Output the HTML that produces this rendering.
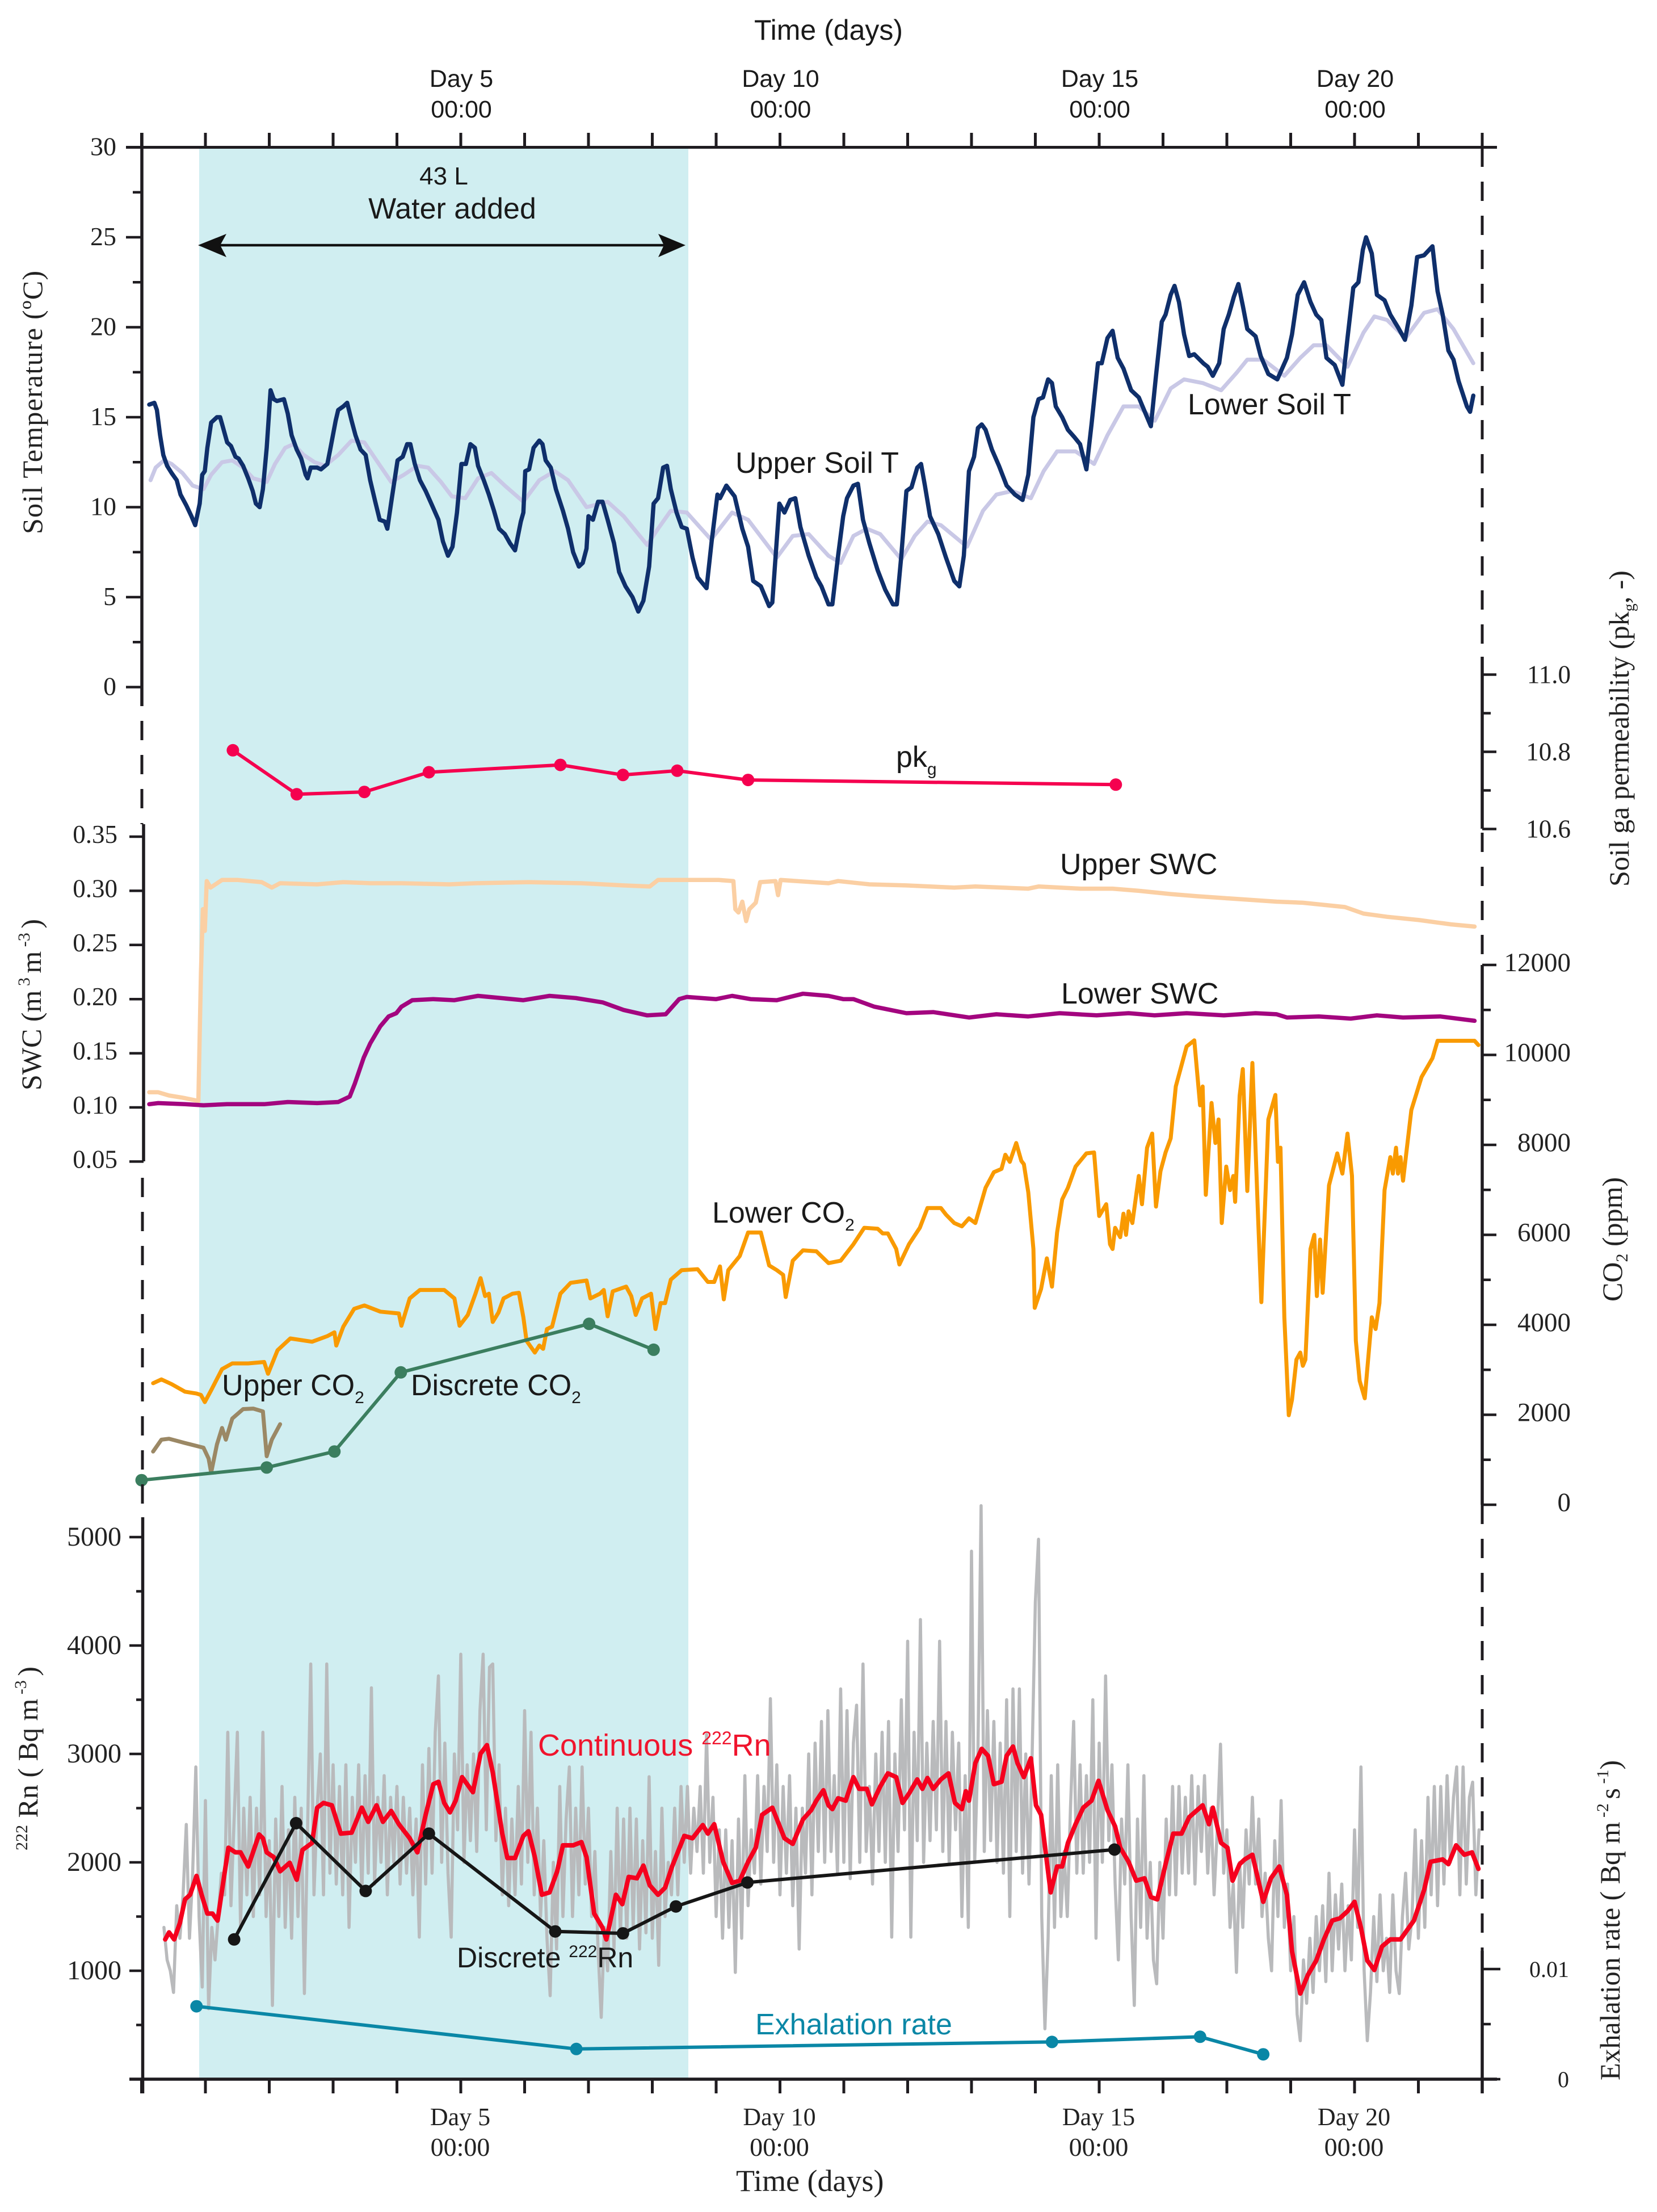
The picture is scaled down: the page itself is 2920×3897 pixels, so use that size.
<!DOCTYPE html>
<html lang="en">
<head>
<meta charset="utf-8">
<title>Soil temperature, permeability, SWC, CO2 and radon time series</title>
<style>
html,body{margin:0;padding:0;background:#fff;}
svg{display:block;}
.sans{font-family:"Liberation Sans",Arial,sans-serif;fill:#1a1a1a;}
.serif{font-family:"Liberation Serif",serif;fill:#222;}
</style>
</head>
<body>
<svg id="chart" xmlns="http://www.w3.org/2000/svg" width="2920" height="3897" viewBox="0 0 2920 3897">
<rect x="0" y="0" width="2920" height="3897" fill="#ffffff"/>
<rect x="351" y="260" width="862" height="3403" fill="#d0eef1"/>
<g id="marks"></g>
<g id="axes"></g>

<g>
<line x1="380" y1="432" x2="1180" y2="432" stroke="#111" stroke-width="4.5"/>
<polygon points="349,432 399,412 388,432 399,453" fill="#111"/>
<polygon points="1208,432 1160,412 1170,432 1160,453" fill="#111"/>
<text class="sans" x="782" y="325" font-size="44" text-anchor="middle">43 L</text>
<text class="sans" x="797" y="385" font-size="52" text-anchor="middle">Water added</text>
</g>

<text class="sans" x="1460" y="70" font-size="50" text-anchor="middle">Time (days)</text>
<text class="serif" x="1297" y="3860" font-size="54">Time (days)</text>

<text class="sans" x="1296" y="833" font-size="52">Upper Soil T</text>
<text class="sans" x="2093" y="730" font-size="52">Lower Soil T</text>
<text class="sans" x="1579" y="1351" font-size="52">pk<tspan font-size="30" dy="14">g</tspan></text>
<text class="sans" x="1868" y="1540" font-size="52">Upper SWC</text>
<text class="sans" x="1870" y="1768" font-size="52">Lower SWC</text>
<text class="sans" x="1255" y="2154" font-size="52">Lower CO<tspan font-size="30" dy="14">2</tspan></text>
<text class="sans" x="391" y="2458" font-size="52">Upper CO<tspan font-size="30" dy="14">2</tspan></text>
<text class="sans" x="724" y="2458" font-size="52">Discrete CO<tspan font-size="30" dy="14">2</tspan></text>
<text class="sans" x="948" y="3093" font-size="54" style="fill:#f0142d">Continuous <tspan font-size="32" dy="-20">222</tspan><tspan dy="20">Rn</tspan></text>
<text class="sans" x="805" y="3466" font-size="50">Discrete <tspan font-size="30" dy="-18">222</tspan><tspan dy="18">Rn</tspan></text>
<text class="sans" x="1331" y="3584" font-size="52" style="fill:#0a87a6">Exhalation rate</text>

<text class="serif" transform="translate(74,941) rotate(-90)" font-size="50" textLength="464" lengthAdjust="spacing">Soil Temperature (ºC)</text>
<text class="serif" transform="translate(2870,1562) rotate(-90)" font-size="50">Soil ga permeability (pk<tspan font-size="28" dy="10">g</tspan><tspan dy="-10">, -)</tspan></text>
<text class="serif" transform="translate(72,1921) rotate(-90)" font-size="50">SWC (m<tspan font-size="30" dy="-20">&#160;3&#160;</tspan><tspan dy="20">m</tspan><tspan font-size="30" dy="-20">&#160;-3&#160;</tspan><tspan dy="20">)</tspan></text>
<text class="serif" transform="translate(2858,2293) rotate(-90)" font-size="50">CO<tspan font-size="30" dy="10">2</tspan><tspan dy="-10"> (ppm)</tspan></text>
<text class="serif" transform="translate(66,3260) rotate(-90)" font-size="50"><tspan font-size="30" dy="-18">222</tspan><tspan dy="18"> Rn ( Bq m</tspan><tspan font-size="30" dy="-20">&#160;-3&#160;</tspan><tspan dy="20">)</tspan></text>
<text class="serif" transform="translate(2854,3665) rotate(-90)" font-size="50">Exhalation rate ( Bq m<tspan font-size="30" dy="-20">&#160;-2&#160;</tspan><tspan dy="20">s</tspan><tspan font-size="30" dy="-20">&#160;-1</tspan><tspan dy="20">)</tspan></text>
</svg>

<script>
var upperTDays=[0.12,0.20,0.24,0.29,0.34,0.40,0.47,0.55,0.61,0.70,0.78,0.84,0.91,0.95,0.99,1.03,1.09,1.18,1.23,1.27,1.34,1.40,1.47,1.52,1.59,1.67,1.74,1.79,1.85,1.90,1.96,2.02,2.07,2.12,2.23,2.29,2.35,2.43,2.50,2.57,2.60,2.65,2.75,2.81,2.91,2.96,3.04,3.08,3.16,3.22,3.29,3.35,3.43,3.51,3.58,3.66,3.73,3.81,3.85,3.92,4.01,4.09,4.16,4.21,4.28,4.36,4.45,4.55,4.65,4.72,4.80,4.87,4.94,5.01,5.08,5.15,5.22,5.27,5.36,5.44,5.52,5.60,5.69,5.77,5.85,5.94,5.98,6.01,6.07,6.14,6.23,6.28,6.33,6.41,6.49,6.60,6.68,6.76,6.85,6.91,6.97,7.00,7.07,7.15,7.22,7.30,7.40,7.48,7.58,7.69,7.78,7.86,7.95,8.02,8.09,8.17,8.23,8.29,8.38,8.46,8.54,8.63,8.71,8.85,8.93,9.02,9.06,9.16,9.29,9.41,9.50,9.58,9.70,9.83,9.88,9.99,10.07,10.16,10.24,10.32,10.45,10.57,10.65,10.76,
10.82,10.91,10.99,11.05,11.15,11.22,11.30,11.40,11.53,11.65,11.77,11.83,11.90,11.98,12.06,12.15,12.21,12.27,12.35,12.48,12.60,12.73,12.81,12.88,12.96,13.04,13.10,13.16,13.22,13.32,13.43,13.55,13.68,13.80,13.89,13.97,14.05,14.12,14.20,14.26,14.32,14.42,14.51,14.61,14.70,14.80,14.88,14.98,15.04,15.13,15.21,15.29,15.38,15.50,15.62,15.75,15.81,15.89,15.98,16.04,16.12,16.18,16.25,16.33,16.41,16.49,16.63,16.70,16.78,16.88,16.95,17.03,17.11,17.18,17.25,17.32,17.45,17.53,17.65,17.79,17.94,18.02,18.11,18.21,18.31,18.40,18.48,18.56,18.69,18.81,18.89,18.98,19.06,19.13,19.18,19.27,19.35,19.47,19.56,19.68,19.79,19.89,19.98,20.09,20.22,20.30,20.38,20.47,20.55,20.63,20.76,20.81,20.86];
var upperTValues=[15.7,15.8,15.4,14.0,12.9,12.3,11.9,11.5,10.7,10.1,9.5,9.0,10.2,11.8,12.0,13.3,14.7,15.0,15.0,14.5,13.6,13.4,12.8,12.7,12.3,11.6,10.9,10.2,10.0,11.0,13.3,16.5,16.0,15.9,16.0,15.2,14.0,13.2,12.7,11.8,11.6,12.2,12.2,12.1,12.4,13.3,14.8,15.4,15.6,15.8,14.8,14.0,13.2,12.9,11.5,10.3,9.3,9.2,8.8,10.5,12.6,12.8,13.5,13.5,12.4,11.5,10.9,10.1,9.3,8.1,7.3,7.8,9.7,12.4,12.4,13.5,13.3,12.3,11.5,10.7,9.8,8.8,8.5,8.0,7.6,9.2,9.7,12.0,12.1,13.3,13.7,13.5,12.6,12.2,11.0,9.8,8.8,7.5,6.7,6.9,7.7,9.5,9.3,10.3,10.3,9.3,8.0,6.4,5.6,5.0,4.2,4.8,6.7,10.2,10.5,12.2,12.3,11.0,9.7,8.9,8.8,7.2,6.1,5.5,8.1,10.7,10.5,11.2,10.6,8.8,7.8,5.9,5.6,4.5,4.7,10.2,9.7,10.4,10.5,8.9,7.3,6.1,5.6,4.6,
4.6,7.3,9.5,10.5,11.2,11.3,9.3,8.0,6.5,5.4,4.6,4.6,7.3,10.9,11.1,12.2,12.4,11.2,9.5,8.5,7.2,5.9,5.6,7.3,12.0,12.8,14.4,14.6,14.3,13.2,12.3,11.2,10.7,10.4,11.8,15.0,16.0,16.1,17.1,16.9,15.6,15.0,14.3,13.9,13.5,12.1,14.6,18.0,18.0,19.4,19.8,18.3,17.7,16.5,16.1,15.0,14.5,17.3,20.3,20.7,21.8,22.3,21.4,19.6,18.4,18.5,18.0,17.8,17.3,18.0,19.9,20.7,21.7,22.4,21.2,19.9,19.5,18.4,17.4,17.1,18.3,19.6,21.8,22.5,21.4,20.7,20.4,18.3,17.9,16.8,19.4,22.2,22.5,24.3,25.0,24.1,21.8,21.5,20.7,20.0,19.3,21.2,23.9,24.0,24.5,22.0,20.7,18.7,18.2,17.0,15.6,15.3,16.2];

var lowerTDays=[0.14,0.22,0.35,0.47,0.64,0.80,0.97,1.09,1.26,1.42,1.59,1.75,1.96,2.09,2.25,2.38,2.54,2.71,2.87,3.08,3.29,3.49,3.66,3.91,4.11,4.32,4.49,4.69,4.86,5.07,5.27,5.48,5.69,5.98,6.23,6.47,6.68,6.97,7.30,7.55,7.92,8.09,8.29,8.54,8.92,9.25,9.50,9.95,10.20,10.45,10.76,10.95,11.15,11.36,11.57,11.90,12.11,12.31,12.52,12.93,13.18,13.39,13.64,13.93,14.13,14.34,14.63,14.92,15.13,15.38,15.62,15.87,16.12,16.33,16.62,16.91,17.16,17.32,17.57,17.90,18.15,18.36,18.56,18.89,19.14,19.31,19.51,19.80,20.09,20.30,20.55,20.86];
var lowerTValues=[11.5,12.2,12.6,12.4,11.9,11.2,11.0,11.8,12.5,12.6,12.2,11.6,11.4,12.4,13.3,13.5,12.9,12.5,12.3,12.9,13.7,13.6,12.7,11.4,11.8,12.3,12.2,11.4,10.6,10.5,11.6,11.9,11.2,10.3,11.5,12.0,11.5,10.0,10.3,9.5,7.9,8.8,9.8,9.7,8.2,9.7,9.3,7.2,8.4,8.5,7.3,6.9,8.4,8.8,8.5,7.1,8.4,9.2,9.0,7.8,9.8,10.7,10.9,10.5,12.0,13.1,13.1,12.4,14.0,15.6,15.6,14.8,16.6,17.1,16.9,16.5,17.5,18.2,18.2,17.3,18.3,19.0,19.0,17.8,19.7,20.6,20.4,19.4,20.8,21.0,19.9,18.0];

var pkgDays=[1.43,2.43,3.49,4.50,6.56,7.54,8.39,9.50,15.26];
var pkgValues=[10.804,10.690,10.696,10.747,10.766,10.740,10.751,10.727,10.715];

var upperSwcDays=[0.12,0.26,0.43,0.64,0.89,0.93,0.96,0.99,1.02,1.08,1.26,1.51,1.88,2.04,2.17,2.75,3.16,3.58,4.07,4.82,5.23,6.06,6.89,7.55,7.96,8.09,8.54,9.04,9.27,9.30,9.35,9.41,9.47,9.52,9.62,9.69,9.93,9.97,10.01,10.76,10.91,11.40,11.98,12.73,13.06,13.89,14.05,14.71,15.21,15.62,16.12,16.53,17.03,17.78,18.19,18.85,19.14,19.51,20.01,20.51,20.88];
var upperSwcValues=[0.114,0.114,0.111,0.109,0.106,0.224,0.283,0.263,0.309,0.303,0.310,0.310,0.308,0.303,0.307,0.306,0.308,0.307,0.307,0.306,0.307,0.308,0.307,0.305,0.304,0.310,0.310,0.310,0.309,0.283,0.280,0.290,0.272,0.283,0.289,0.308,0.309,0.296,0.310,0.307,0.309,0.306,0.305,0.303,0.304,0.302,0.304,0.302,0.302,0.300,0.297,0.295,0.293,0.290,0.289,0.285,0.279,0.276,0.273,0.269,0.267];

var lowerSwcDays=[0.12,0.26,0.68,0.97,1.34,1.92,2.29,2.75,3.08,3.26,3.34,3.48,3.58,3.74,3.87,3.99,4.07,4.24,4.57,4.90,5.27,5.98,6.39,6.80,7.22,7.55,7.92,8.21,8.42,8.54,9.00,9.25,9.54,9.95,10.36,10.76,10.99,11.15,11.48,11.98,12.40,12.96,13.39,13.89,14.38,14.96,15.46,15.87,16.37,16.95,17.45,17.78,17.94,18.44,18.94,19.35,19.76,20.34,20.88];
var lowerSwcValues=[0.103,0.104,0.103,0.102,0.103,0.103,0.105,0.104,0.105,0.110,0.122,0.146,0.159,0.175,0.184,0.187,0.193,0.199,0.200,0.199,0.203,0.199,0.203,0.201,0.197,0.190,0.185,0.186,0.200,0.202,0.200,0.203,0.200,0.199,0.205,0.203,0.200,0.200,0.193,0.187,0.188,0.183,0.186,0.184,0.187,0.185,0.187,0.185,0.187,0.185,0.187,0.186,0.183,0.184,0.182,0.185,0.183,0.184,0.180];

var lowerCo2Days=[0.18,0.31,0.47,0.68,0.86,0.93,0.99,1.09,1.26,1.42,1.67,1.92,1.98,2.13,2.33,2.67,2.91,3.02,3.05,3.16,3.33,3.49,3.74,4.03,4.07,4.20,4.36,4.74,4.90,4.98,5.11,5.23,5.31,5.38,5.44,5.50,5.59,5.67,5.81,5.91,5.98,6.03,6.16,6.23,6.29,6.35,6.43,6.56,6.72,6.97,7.03,7.18,7.24,7.30,7.38,7.59,7.67,7.74,7.84,7.98,8.05,8.13,8.20,8.29,8.46,8.71,8.87,8.97,9.06,9.12,9.19,9.37,9.50,9.70,9.83,9.95,10.05,10.09,10.20,10.36,10.57,10.76,
10.95,11.15,11.32,11.53,11.61,11.69,11.82,11.87,12.02,12.19,12.31,12.52,12.60,12.73,12.85,12.96,13.06,13.22,13.35,13.47,13.53,13.60,13.70,13.78,13.82,13.89,13.97,13.99,14.09,14.18,14.26,14.34,14.42,14.51,14.63,14.80,14.92,15.00,15.11,15.17,15.21,15.25,15.33,15.38,15.42,15.46,15.52,15.62,15.67,15.75,15.83,15.89,15.96,16.04,16.12,16.20,16.37,16.49,16.58,16.62,16.67,16.76,16.82,16.87,16.92,16.99,17.05,17.10,17.13,17.20,17.25,17.32,17.40,17.49,17.54,17.65,17.76,17.80,17.84,17.90,17.97,18.02,18.09,18.15,18.19,18.23,18.31,18.37,18.41,18.46,18.50,18.60,18.73,18.81,18.89,18.96,19.02,19.08,19.16,19.27,19.33,19.39,19.47,19.56,19.60,19.65,19.68,19.72,19.76,19.89,20.05,20.22,20.30,20.88,20.94];
var lowerCo2Values=[2702,2786,2681,2514,2472,2440,2283,2545,3016,3142,3142,3173,2911,3435,3697,3624,3749,3833,3540,3959,4356,4430,4293,4252,3980,4587,4775,4775,4587,3980,4220,4691,5037,4639,4691,4063,4273,4587,4691,4712,4168,3644,3383,3540,3466,3906,3959,4691,4932,4985,4587,4691,4775,4189,4744,4849,4639,4220,4587,4691,3906,4482,4482,5005,5215,5236,4953,4953,5299,4566,5215,5529,6052,6052,5320,5215,5110,4618,5424,5655,5634,5372,
5424,5791,6157,6136,6032,6032,5686,5341,5791,6157,6597,6597,6450,6262,6189,6367,6262,7047,7393,7466,7780,7623,8042,7644,7571,6942,5686,4377,4796,5477,4849,6052,6786,7047,7518,7811,7832,6419,6681,5791,5686,6157,5948,6471,6000,6524,6262,7309,6681,7937,8251,6628,7414,7832,8147,9298,10188,10324,8879,9298,6890,8932,8042,8565,6262,7518,6995,7309,6733,9089,9686,6974,9822,6367,4503,8565,9110,7623,7937,4168,1990,2336,3226,3383,3089,3226,5686,6000,4639,5895,4712,7100,7811,7361,8251,7309,3644,2754,2367,4168,3906,4482,6995,7728,7361,7937,7361,7728,7204,8775,9508,9927,10314,10314,10220];

var upperCo2Days=[0.18,0.31,0.43,0.68,0.97,1.05,1.09,1.18,1.26,1.32,1.42,1.59,1.75,1.90,1.96,2.04,2.17];
var upperCo2Values=[1184,1446,1467,1373,1268,1027,713,1341,1707,1446,1917,2126,2137,2074,1079,1446,1791];

var discreteCo2Days=[0,1.96,3.02,4.06,7.01,8.02];
var discreteCo2Values=[546,828,1184,2943,4021,3446];

var rawRadonStart=0.35;
var rawRadonStep=0.05;
var rawRadonValues=[1400,1100,1000,800,1600,1300,1700,2350,1300,1900,2880,1500,850,2570,650,1400,1100,1500,1900,1700,
3200,1600,2400,3200,1400,2500,1700,2600,1500,2500,1700,3200,1500,2200,680,2400,1500,2700,1400,2300,
1300,2600,1500,2500,790,2300,3830,1700,2500,3000,1700,3830,1900,2900,1800,2700,1700,2900,1400,2600,
2000,2900,1700,2800,1900,3610,1800,2600,2000,2800,1700,2600,2000,2700,1800,2600,1900,2500,1700,2400,
1310,2900,1800,3050,1900,3200,3720,2000,3100,1900,1310,3000,2300,3920,2000,2900,2200,3000,2100,3400,
3920,2300,3800,3830,2200,2900,1700,2500,1600,2400,1700,2700,1800,3400,2000,3200,1700,2500,1500,2200,
1300,770,2000,1200,2700,1500,2400,2880,1500,2500,1700,2880,1800,2500,1500,2100,1200,570,1400,1000,
2100,1200,2500,1300,2400,1300,2500,1400,2400,1200,2200,1350,2790,1300,2100,1050,2500,1500,2000,1700,
2500,1700,2700,2000,2700,1900,2500,2100,2700,1900,3180,2000,2600,1500,2300,1300,2300,1400,2200,985,
2400,1300,2800,1600,2300,1900,2800,1800,2700,2100,3510,2000,2900,1700,2700,1900,2800,1600,2500,1200,
2500,1900,3000,1700,3100,2100,3300,2000,3400,2100,2800,1900,3600,2000,3400,1850,3100,3450,2000,3830,
2100,2700,1800,3000,2100,3200,2000,3300,1310,3000,2100,3500,2300,4040,1310,3200,2200,4240,2000,3100,
2200,3300,2300,4040,2100,3300,2000,3200,2300,3100,1500,2800,1400,4870,2000,3000,5290,2100,3400,2200,
3300,2000,3100,1900,3500,1500,3600,2100,3600,1900,3000,1800,3000,4400,4980,1500,465,1300,2800,1400,
2900,1500,2100,1500,2500,3300,1900,2900,1900,2800,2000,3500,1300,3100,2000,3720,2200,2900,1800,1100,
2400,1800,2900,1500,680,2400,1400,2800,1300,2000,1100,880,2000,1300,2400,1700,2700,1700,2700,1900,
2600,1900,2800,1800,2700,2100,2800,1900,2500,1700,2300,3090,1900,2300,1400,1800,985,2000,1400,2300,
1800,2600,1800,2400,1500,1900,1300,1000,2200,1500,2570,1400,1800,1000,1500,600,355,1100,700,1300,
800,1500,1000,1600,900,1900,1000,1700,1200,1800,1000,1600,1100,2300,1400,2880,1000,355,800,1500,
900,1700,1000,1300,800,1700,1000,790,1500,1900,1200,1500,2300,1300,2200,1400,2600,1700,2700,1600,
2700,1800,2800,2000,2600,2880,1700,2880,1800,2600,2740,1700,2300];

var contRadonDays=[0.37,0.43,0.51,0.60,0.68,0.76,0.86,0.94,1.03,1.11,1.19,1.26,1.36,1.47,1.55,1.67,1.77,1.84,1.90,1.96,2.07,2.17,2.32,2.43,2.52,2.67,2.75,2.85,2.98,3.12,3.29,3.45,3.55,3.68,3.78,3.91,4.03,4.20,4.32,4.45,4.57,4.65,4.74,4.83,4.92,5.02,5.19,5.31,5.41,5.50,5.65,5.73,5.85,5.98,6.06,6.16,6.27,6.39,6.51,6.60,6.76,6.89,6.97,7.09,7.22,7.28,7.43,7.53,7.63,7.76,7.86,7.96,8.09,8.20,8.31,8.50,8.63,8.79,8.87,8.97,9.11,9.25,9.37,9.50,9.62,9.72,9.88,10.07,10.20,10.36,10.49,10.57,10.68,10.76,
10.82,10.91,11.03,11.15,11.24,11.36,11.44,11.57,11.69,11.82,11.92,12.02,12.15,12.23,12.31,12.40,12.52,12.64,12.74,12.85,12.91,12.96,13.06,13.16,13.26,13.35,13.47,13.55,13.65,13.72,13.82,13.93,14.01,14.09,14.18,14.24,14.34,14.42,14.51,14.63,14.75,14.88,14.99,15.13,15.25,15.33,15.46,15.58,15.71,15.81,15.91,16.04,16.16,16.29,16.41,16.62,16.72,16.78,16.91,17.01,17.09,17.20,17.28,17.40,17.57,17.69,17.82,17.94,18.02,18.15,18.27,18.40,18.52,18.65,18.77,18.89,19.00,19.10,19.20,19.31,19.43,19.56,19.72,19.93,20.09,20.19,20.38,20.47,20.59,20.72,20.84,20.94];
var contRadonValues=[1289,1354,1289,1441,1658,1701,1875,1701,1528,1528,1463,1745,2135,2092,2092,1962,2135,2257,2222,2092,2048,1918,1996,1840,2114,2179,2504,2548,2526,2265,2274,2504,2374,2526,2374,2474,2352,2222,2092,2439,2721,2743,2548,2461,2569,2786,2647,3003,3081,2830,2265,2040,2040,2244,2287,2048,1701,1723,1918,2157,2157,2187,2048,1528,1397,1289,1701,1614,1866,1853,1970,1788,1701,1766,1962,2244,2222,2344,2265,2352,2005,1810,1831,2005,2135,2439,2504,2222,2170,2396,2482,2569,2665,2526,
2491,2591,2569,2786,2678,2678,2535,2699,2821,2786,2548,2634,2765,2678,2778,2678,2765,2821,2548,2491,2656,2569,2916,3047,2982,2721,2743,2982,3068,2916,2786,2960,2526,2439,2005,1723,1962,1962,2179,2352,2504,2569,2752,2482,2331,2135,2005,1831,1853,1680,1658,1983,2265,2265,2417,2526,2352,2504,2179,2135,1831,1983,2027,2070,1636,1853,1962,1701,1180,790,963,1094,1289,1463,1484,1549,1636,1397,1094,1007,1224,1289,1289,1463,1745,2005,2027,1983,2157,2070,2092,1940];

var discreteRadonDays=[1.45,2.42,3.51,4.50,6.48,7.54,8.37,9.49,15.24];
var discreteRadonValues=[1289,2361,1736,2265,1363,1345,1593,1814,2118];

var exhalationDays=[0.86,6.81,14.26,16.58,17.57];
var exhalationValues=[0.00662,0.00274,0.00338,0.00385,0.00226];

var dayTicks=[0,1,2,3,4,5,6,7,8,9,10,11,12,13,14,15,16,17,18,19,20,21];
var tempTicks=[30,25,20,15,10,5,0];
var tempMinorTicks=[27.5,22.5,17.5,12.5,7.5,2.5];
var pkgTicks=[11.0,10.8,10.6];
var pkgMinorTicks=[10.9,10.7];
var swcTicks=[0.35,0.30,0.25,0.20,0.15,0.10,0.05];
var co2Ticks=[12000,10000,8000,6000,4000,2000,0];
var co2MinorTicks=[11000,9000,7000,5000,3000,1000];
var radonTicks=[5000,4000,3000,2000,1000];
var radonMinorTicks=[4500,3500,2500,1500,500];
var exhalationTicks=[0.01,0];
var exhalationMinorTicks=[0.005];
var dayLabelTicks=[5,10,15,19];
var dayLabelNames=["Day 5","Day 10","Day 15","Day 20"];
var timeLabel="00:00";

function xDay(d){return 249.5+112.5*d;}
function yTemp(v){return 1210.5-31.7*v;}
function yPkg(v){return 1324.5+(10.8-v)*680;}
function ySwc(v){return 1951+(0.10-v)*1908;}
function yCo2(v){return 2651-v*0.07925;}
function yRadon(v){return 3663-v*0.191;}
function yExh(v){return 3663-v*19400;}

var NS="http://www.w3.org/2000/svg";
var marks=document.getElementById("marks");
var axes=document.getElementById("axes");

function drawSeries(name,days,vals,yFn,color,width){
  var pts=[];
  var n=Math.min(days.length,vals.length);
  for(var i=0;i<n;i++){pts.push(xDay(days[i]).toFixed(1)+","+yFn(vals[i]).toFixed(1));}
  var el=document.createElementNS(NS,"polyline");
  
  
  el.setAttribute("points",pts.join(" "));
  el.setAttribute("fill","none");
  el.setAttribute("stroke",color);
  el.setAttribute("stroke-width",width);
  el.setAttribute("stroke-linejoin","round");
  el.setAttribute("stroke-linecap","round");
  marks.appendChild(el);
}
function drawPoints(name,days,vals,yFn,color,r){
  for(var i=0;i<days.length;i++){
    var c=document.createElementNS(NS,"circle");
    
    
    c.setAttribute("cx",xDay(days[i]).toFixed(1));
    c.setAttribute("cy",yFn(vals[i]).toFixed(1));
    c.setAttribute("r",r);
    c.setAttribute("fill",color);
    marks.appendChild(c);
  }
}
function seg(name,x1,y1,x2,y2,w,dash){
  var l=document.createElementNS(NS,"line");
  
  
  l.setAttribute("x1",x1);l.setAttribute("y1",y1);l.setAttribute("x2",x2);l.setAttribute("y2",y2);
  l.setAttribute("stroke","#1f1c20");l.setAttribute("stroke-width",w);
  if(dash){l.setAttribute("stroke-dasharray",dash);}
  axes.appendChild(l);
}
function label(name,txt,x,y,anchor,size,cls){
  var t=document.createElementNS(NS,"text");
  
  
  t.setAttribute("x",x);t.setAttribute("y",y);
  t.setAttribute("text-anchor",anchor);
  t.setAttribute("font-size",size);
  t.setAttribute("class",cls);
  t.textContent=txt;
  axes.appendChild(t);
}

var rawRadonDays=[];
for(var ri=0;ri<rawRadonValues.length;ri++){rawRadonDays.push(rawRadonStart+rawRadonStep*ri);}

drawSeries("raw-radon-line",rawRadonDays,rawRadonValues,yRadon,"#b9babc",5.5);
drawSeries("lower-soil-temperature-line",lowerTDays,lowerTValues,yTemp,"#c9c8e6",7);
drawSeries("upper-soil-temperature-line",upperTDays,upperTValues,yTemp,"#0f2f6b",7.5);
drawSeries("pkg-line",pkgDays,pkgValues,yPkg,"#f5004f",6);
drawPoints("pkg-point",pkgDays,pkgValues,yPkg,"#f5004f",11);
drawSeries("upper-swc-line",upperSwcDays,upperSwcValues,ySwc,"#fbcfa3",7.5);
drawSeries("lower-swc-line",lowerSwcDays,lowerSwcValues,ySwc,"#a3057f",7.5);
drawSeries("lower-co2-line",lowerCo2Days,lowerCo2Values,yCo2,"#f99a00",7);
drawSeries("upper-co2-line",upperCo2Days,upperCo2Values,yCo2,"#9b8865",7);
drawSeries("discrete-co2-line",discreteCo2Days,discreteCo2Values,yCo2,"#3b7e5f",6);
drawPoints("discrete-co2-point",discreteCo2Days,discreteCo2Values,yCo2,"#3b7e5f",11);
drawSeries("continuous-radon-line",contRadonDays,contRadonValues,yRadon,"#f5001e",8);
drawSeries("discrete-radon-line",discreteRadonDays,discreteRadonValues,yRadon,"#161616",6);
drawPoints("discrete-radon-point",discreteRadonDays,discreteRadonValues,yRadon,"#161616",11);
drawSeries("exhalation-rate-line",exhalationDays,exhalationValues,yExh,"#0a87a6",6);
drawPoints("exhalation-rate-point",exhalationDays,exhalationValues,yExh,"#0a87a6",11);

/* axis lines */
seg("top-x-axis-line",222,259.5,2638,259.5,5);
seg("bottom-x-axis-line",228,3663,2638,3663,5.5);
seg("temperature-axis-line",250,234,250,1244,5.5);
seg("left-dashed-connector-upper",250,1270,250,1452,5,"34 26");
seg("swc-axis-line",253,1452,253,2046,5.5);
seg("left-dashed-connector-middle",251,2075,251,2650,5,"34 26");
seg("radon-axis-line",251.5,2673,251.5,3688,5.5);
seg("right-dashed-connector-upper",2612,260,2612,1157,5,"34 26");
seg("pkg-axis-line",2612,1157,2612,1460,5.5);
seg("right-dashed-connector-middle",2612,1467,2612,1700,5,"34 26");
seg("co2-axis-line",2612,1700,2612,2651,5.5);
seg("right-dashed-connector-lower",2612,2651,2612,3437,5,"34 26");
seg("exhalation-axis-line",2612,3437,2612,3688,5.5);

/* x ticks */
dayTicks.forEach(function(d){
  seg("top-x-tick",xDay(d),234,xDay(d),260,5);
  seg("bottom-x-tick",xDay(d),3663,xDay(d),3688,5);
});
dayLabelTicks.forEach(function(d,i){
  var cx=xDay(d)+1;
  label("top-day-label",dayLabelNames[i],cx,153,"middle",43,"sans");
  label("top-time-label",timeLabel,cx,207,"middle",43,"sans");
  label("bottom-day-label",dayLabelNames[i],cx-2,3744,"middle",44,"serif");
  label("bottom-time-label",timeLabel,cx-2,3798,"middle",46,"serif");
});

/* y ticks */
tempTicks.forEach(function(v){
  seg("temperature-tick",222,yTemp(v),250,yTemp(v),4.5);
  label("temperature-tick-label",String(v),205,yTemp(v)+14,"end",46,"serif");
});
tempMinorTicks.forEach(function(v){
  seg("temperature-minor-tick",234,yTemp(v),250,yTemp(v),4.5);
});
pkgTicks.forEach(function(v){
  seg("pkg-tick",2612,yPkg(v),2637,yPkg(v),4.5);
  label("pkg-tick-label",v.toFixed(1),2768,yPkg(v)+15,"end",45,"serif");
});
pkgMinorTicks.forEach(function(v){
  seg("pkg-minor-tick",2612,yPkg(v),2627,yPkg(v),4.5);
});
swcTicks.forEach(function(v){
  seg("swc-tick",228,ySwc(v),253,ySwc(v),4.5);
  label("swc-tick-label",v.toFixed(2),207,ySwc(v)+11,"end",45,"serif");
});
co2Ticks.forEach(function(v){
  seg("co2-tick",2612,yCo2(v),2637,yCo2(v),4.5);
  label("co2-tick-label",String(v),2768,yCo2(v)+11,"end",47,"serif");
});
co2MinorTicks.forEach(function(v){
  seg("co2-minor-tick",2612,yCo2(v),2627,yCo2(v),4.5);
});
radonTicks.forEach(function(v){
  seg("radon-tick",228,yRadon(v),251.5,yRadon(v),4.5);
  label("radon-tick-label",String(v),214,yRadon(v)+15,"end",48,"serif");
});
radonMinorTicks.forEach(function(v){
  seg("radon-minor-tick",240,yRadon(v),251.5,yRadon(v),4.5);
});
exhalationTicks.forEach(function(v){
  seg("exhalation-tick",2612,yExh(v),2644,yExh(v),4.5);
  label("exhalation-tick-label",String(v),2765,yExh(v)+14,"end",40,"serif");
});
exhalationMinorTicks.forEach(function(v){
  seg("exhalation-minor-tick",2612,yExh(v),2627,yExh(v),4.5);
});
</script>
</body>
</html>
